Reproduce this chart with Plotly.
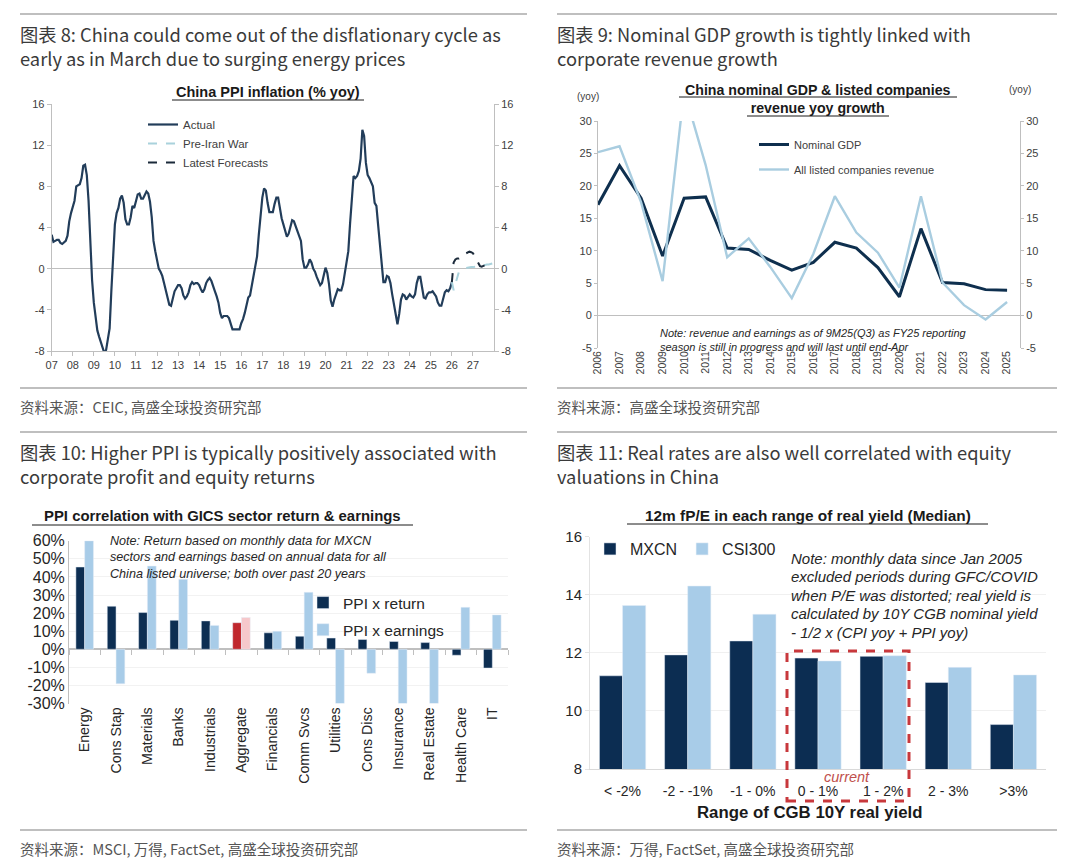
import plotly.graph_objects as go

W, H = 1080, 864


def px(x):
    return x / W


def py(y):
    return 1 - y / H


# ---------------- Panel 1: China PPI inflation (% yoy), monthly ----------------
ppi_start_year = 2007
ppi_actual = [
    3.3, 2.6, 2.7, 2.8, 2.8, 2.5, 2.4, 2.6, 2.7, 3.2, 4.6, 5.4,      # 2007
    6.1, 6.6, 8.0, 8.1, 8.2, 8.8, 10.0, 10.1, 9.1, 6.6, 2.0, -1.1,   # 2008
    -3.3, -4.5, -6.0, -6.6, -7.2, -7.8, -8.2, -7.9, -7.0, -5.8, -2.1, 1.7,  # 2009
    4.3, 5.4, 5.9, 6.8, 7.1, 6.4, 4.8, 4.3, 4.3, 5.0, 6.1, 5.9,      # 2010
    6.6, 7.2, 7.3, 6.8, 6.8, 7.1, 7.5, 7.3, 6.5, 5.0, 2.7, 1.7,      # 2011
    0.7, 0.0, -0.3, -0.7, -1.4, -2.1, -2.9, -3.5, -3.6, -2.8, -2.2, -1.9,  # 2012
    -1.6, -1.6, -1.9, -2.6, -2.9, -2.7, -2.3, -1.6, -1.3, -1.5, -1.4, -1.4,  # 2013
    -1.6, -2.0, -2.3, -2.0, -1.4, -1.1, -0.9, -1.2, -1.8, -2.2, -2.7, -3.3,  # 2014
    -4.3, -4.8, -4.6, -4.6, -4.6, -4.8, -5.4, -5.9, -5.9, -5.9, -5.9, -5.9,  # 2015
    -5.3, -4.9, -4.3, -3.4, -2.8, -2.6, -1.7, -0.8, 0.1, 1.2, 3.3, 5.5,    # 2016
    6.9, 7.8, 7.6, 6.4, 5.5, 5.5, 5.5, 6.3, 6.9, 6.9, 5.8, 4.9,      # 2017
    4.3, 3.7, 3.1, 3.4, 4.1, 4.7, 4.6, 4.1, 3.6, 3.3, 2.7, 0.9,      # 2018
    0.1, 0.1, 0.4, 0.9, 0.6, 0.0, -0.3, -0.8, -1.2, -1.6, -1.4, -0.5,  # 2019
    0.1, -0.4, -1.5, -3.1, -3.7, -3.0, -2.4, -2.0, -2.1, -2.1, -1.5, -0.4,  # 2020
    0.3, 1.7, 4.4, 6.8, 9.0, 8.8, 9.0, 9.5, 10.7, 13.5, 12.9, 10.3,  # 2021
    9.1, 8.8, 8.3, 8.0, 6.4, 6.1, 4.2, 2.3, 0.9, -1.3, -1.3, -0.7,   # 2022
    -0.8, -1.4, -2.5, -3.6, -4.6, -5.4, -4.4, -3.0, -2.5, -2.6, -3.0, -2.7,  # 2023
    -2.5, -2.7, -2.8, -2.5, -1.4, -0.8, -0.8, -1.8, -2.8, -2.9, -2.5, -2.3,  # 2024
    -2.3, -2.2, -2.5, -2.7, -3.3, -3.6, -3.6, -2.9, -2.3, -2.1, -2.2, -1.9,  # 2025
    -1.3,                                                              # Jan 2026
]
# Forecast paths, monthly Jan 2026 - Dec 2027
ppi_latest = [
    -1.3, 0.6, 0.9, 1.0, 1.0, 1.2, 1.3, 1.4, 1.5, 1.6, 1.65, 1.6,
    1.5, 1.2, 0.9, 0.5, 0.25, 0.2, 0.3, 0.35, 0.4, 0.45, 0.5, 0.6,
]
ppi_pre_iran = [
    -1.3, -2.1, -1.5, -0.8, -0.3, -0.15, -0.05, 0.0, 0.05, 0.1, 0.1, 0.15,
    0.15, 0.2, 0.2, 0.2, 0.25, 0.3, 0.3, 0.35, 0.4, 0.4, 0.45, 0.5,
]
ppi_tick_years = list(range(2007, 2028))
ppi_tick_labels = ["07", "08", "09", "10", "11", "12", "13", "14", "15", "16", "17",
                   "18", "19", "20", "21", "22", "23", "24", "25", "26", "27"]
ppi_y_ticks = [-8, -4, 0, 4, 8, 12, 16]
ppi_y_labels = ["-8", "-4", "0", "4", "8", "12", "16"]

# ---------------- Panel 2: nominal GDP vs listed revenue ----------------
gdp_years = list(range(2006, 2026))
nominal_gdp = [17.1, 23.1, 18.1, 9.2, 18.1, 18.3, 10.4, 10.2, 8.5, 7.0,
               8.2, 11.3, 10.4, 7.4, 2.9, 13.4, 5.1, 4.9, 4.0, 3.9]
listed_revenue = [25.2, 26.1, 17.5, 5.3, 34.7, 23.2, 9.0, 11.9, 7.5, 2.7,
                  9.5, 18.4, 12.8, 9.7, 4.3, 18.4, 5.1, 1.6, -0.6, 2.1]
gdp_y_ticks = [-5, 0, 5, 10, 15, 20, 25, 30]
gdp_y_labels = ["-5", "0", "5", "10", "15", "20", "25", "30"]

# ---------------- Panel 3: PPI correlation with GICS sectors ----------------
sectors = ["Energy", "Cons Stap", "Materials", "Banks", "Industrials", "Aggregate",
           "Financials", "Comm Svcs", "Utilities", "Cons Disc", "Insurance",
           "Real Estate", "Health Care", "IT"]
ppi_x_return = [45.5, 23.8, 20.3, 16.0, 15.7, 14.7, 9.1, 7.2, 6.2, 5.4, 4.3, 3.7, -3.3, -10.4]
ppi_x_earnings = [60.0, -19.1, 46.0, 38.7, 13.2, 17.6, 10.0, 31.5, -30.0, -13.3, -30.0, -30.0, 23.2, 19.0]
corr_y_ticks = [-30, -20, -10, 0, 10, 20, 30, 40, 50, 60]
corr_y_labels = ["-30%", "-20%", "-10%", "0%", "10%", "20%", "30%", "40%", "50%", "60%"]

# ---------------- Panel 4: 12m fP/E by real-yield range ----------------
yield_ranges = ["< -2%", "-2 - -1%", "-1 - 0%", "0 - 1%", "1 - 2%", "2 - 3%", ">3%"]
pe_mxcn = [11.21, 11.93, 12.41, 11.82, 11.88, 10.98, 9.53]
pe_csi300 = [13.63, 14.30, 13.33, 11.72, 11.90, 11.50, 11.24]

# ---------------- styling ----------------
NAVY = "#0D2E52"
LIGHT = "#A8CCE8"
GREY_LINE = "#BFBFBF"
TXT = "#404040"
DARK = "#262626"
ARIAL = "Liberation Sans, Arial, sans-serif"
CJK = "Noto Sans CJK SC, Noto Sans, sans-serif"

fig = go.Figure()

# Panel 1 traces
x_act = [ppi_start_year + i / 12 for i in range(len(ppi_actual))]
fc0 = ppi_start_year + (len(ppi_actual) - 1) / 12
x_fc = [fc0 + i / 12 for i in range(len(ppi_latest))]
fig.add_trace(go.Scatter(x=x_act, y=ppi_actual, mode="lines", name="Actual",
                         line=dict(color="#223D5A", width=2.2), xaxis="x", yaxis="y",
                         legend="legend"))
fig.add_trace(go.Scatter(x=x_fc, y=ppi_pre_iran, mode="lines", name="Pre-Iran War",
                         line=dict(color="#A9D2DC", width=2, dash="dash"), xaxis="x", yaxis="y",
                         legend="legend"))
fig.add_trace(go.Scatter(x=x_fc, y=ppi_latest, mode="lines", name="Latest Forecasts",
                         line=dict(color="#1B2A3A", width=2, dash="dash"), xaxis="x", yaxis="y",
                         legend="legend"))
fig.add_trace(go.Scatter(x=x_act[:1], y=ppi_actual[:1], mode="markers", marker=dict(opacity=0),
                         showlegend=False, hoverinfo="skip", xaxis="x", yaxis="y5"))

# Panel 2 traces
fig.add_trace(go.Scatter(x=gdp_years, y=nominal_gdp, mode="lines", name="Nominal GDP",
                         line=dict(color="#0E2F4E", width=3), xaxis="x2", yaxis="y2",
                         legend="legend2", legendgroup="g1"))
fig.add_trace(go.Scatter(x=gdp_years, y=listed_revenue, mode="lines",
                         name="All listed companies revenue",
                         line=dict(color="#A9CDE0", width=2.4), xaxis="x2", yaxis="y2",
                         legend="legend2", legendgroup="g2"))
fig.add_trace(go.Scatter(x=gdp_years[:1], y=nominal_gdp[:1], mode="markers", marker=dict(opacity=0),
                         showlegend=False, hoverinfo="skip", xaxis="x2", yaxis="y6"))

# Panel 3 traces
ret_colors = ["#C0272D" if s == "Aggregate" else NAVY for s in sectors]
earn_colors = ["#F6C8CB" if s == "Aggregate" else LIGHT for s in sectors]
fig.add_trace(go.Bar(x=sectors, y=ppi_x_return, name="PPI x return", marker_color=ret_colors,
                     width=0.28, offset=-0.28, xaxis="x3", yaxis="y3", legend="legend3",
                     legendgroup="r"))
fig.add_trace(go.Bar(x=sectors, y=ppi_x_earnings, name="PPI x earnings", marker_color=earn_colors,
                     width=0.28, offset=0.0, xaxis="x3", yaxis="y3", legend="legend3",
                     legendgroup="e"))
fig.add_trace(go.Scatter(x=[0], y=[0], mode="markers", marker=dict(opacity=0),
                         showlegend=False, hoverinfo="skip", xaxis="x7", yaxis="y3"))

# Panel 4 traces
fig.add_trace(go.Bar(x=yield_ranges, y=pe_mxcn, name="MXCN", marker_color="#0C2D52",
                     width=0.355, offset=-0.355, xaxis="x4", yaxis="y4", legend="legend4"))
fig.add_trace(go.Bar(x=yield_ranges, y=pe_csi300, name="CSI300", marker_color=LIGHT,
                     width=0.355, offset=0.0, xaxis="x4", yaxis="y4", legend="legend4"))

tick_font = dict(family=ARIAL, size=11, color=TXT)

# zero line position in panel 3 (paper)
p3_y0, p3_y1 = py(703.5), py(540.8)
p3_zero = p3_y0 + (0 - (-30)) / 90 * (p3_y1 - p3_y0)

layout = dict(
    width=W, height=H, margin=dict(l=0, r=0, t=0, b=0, pad=0, autoexpand=False),
    paper_bgcolor="white", plot_bgcolor="rgba(0,0,0,0)",
    font=dict(family=ARIAL, color=TXT),
    barmode="overlay",
    # Panel 1
    xaxis=dict(domain=[px(51.7), px(494)], range=[2007, 2028], tickvals=ppi_tick_years,
               ticktext=ppi_tick_labels, showline=True, linecolor=GREY_LINE, linewidth=1,
               ticks="outside", ticklen=4, tickcolor=GREY_LINE, showgrid=False, zeroline=False,
               tickfont=tick_font, anchor="y", automargin=False),
    yaxis=dict(domain=[py(351), py(104)], range=[-8, 16], tickvals=ppi_y_ticks,
               ticktext=ppi_y_labels, showline=True,
               linecolor=GREY_LINE, ticks="outside", ticklen=4, tickcolor=GREY_LINE,
               showgrid=False, zeroline=True, zerolinecolor=GREY_LINE, zerolinewidth=1,
               tickfont=tick_font, anchor="x", automargin=False),
    yaxis5=dict(overlaying="y", side="right", range=[-8, 16], tickvals=ppi_y_ticks,
                ticktext=ppi_y_labels, showline=True,
                linecolor=GREY_LINE, ticks="outside", ticklen=4, tickcolor=GREY_LINE,
                showgrid=False, zeroline=False, tickfont=tick_font, anchor="x",
                automargin=False),
    # Panel 2
    xaxis2=dict(domain=[px(598), px(1020)], range=[2006, 2025.6], tickvals=gdp_years,
                tickangle=-90, showline=False, ticks="", showgrid=False, zeroline=False,
                tickfont=dict(family=ARIAL, size=10.5, color=TXT), anchor="y2",
                automargin=False),
    yaxis2=dict(domain=[py(348), py(121)], range=[-5, 30], tickvals=gdp_y_ticks,
                ticktext=gdp_y_labels, showline=True,
                linecolor=GREY_LINE, ticks="outside", ticklen=3, tickcolor=GREY_LINE,
                showgrid=False, zeroline=True, zerolinecolor=GREY_LINE, zerolinewidth=1,
                tickfont=dict(family=ARIAL, size=11, color=TXT), anchor="x2",
                automargin=False),
    yaxis6=dict(overlaying="y2", side="right", range=[-5, 30], tickvals=gdp_y_ticks,
                ticktext=gdp_y_labels, showline=True,
                linecolor=GREY_LINE, ticks="outside", ticklen=3, tickcolor=GREY_LINE,
                showgrid=False, zeroline=False,
                tickfont=dict(family=ARIAL, size=11, color=TXT), anchor="x2",
                automargin=False),
    # Panel 3
    xaxis3=dict(domain=[px(69), px(508)], type="category", categoryarray=sectors,
                range=[-0.5, 13.5], tickangle=-90, showline=False, ticks="", showgrid=False,
                tickfont=dict(family=ARIAL, size=14.2, color=DARK), anchor="y3",
                automargin=False),
    xaxis7=dict(overlaying="x3", anchor="free", position=p3_zero, range=[-0.5, 13.5],
                tickvals=[i - 0.5 for i in range(15)], showticklabels=False, ticks="outside",
                ticklen=5, tickcolor=GREY_LINE, showline=False, showgrid=False, zeroline=False,
                automargin=False),
    yaxis3=dict(domain=[p3_y0, p3_y1], range=[-30, 60], tickvals=corr_y_ticks,
                ticktext=corr_y_labels,
                showline=True, linecolor=GREY_LINE, ticks="", showgrid=True,
                gridcolor="#F2F2F2", zeroline=True, zerolinecolor=GREY_LINE, zerolinewidth=1.5,
                tickfont=dict(family=ARIAL, size=16, color=DARK), anchor="x3",
                automargin=False),
    # Panel 4
    xaxis4=dict(domain=[px(590), px(1046)], type="category", categoryarray=yield_ranges,
                range=[-0.5, 6.5], showline=True, linecolor="#D9D9D9", ticks="",
                showgrid=False, tickfont=dict(family=ARIAL, size=14, color=DARK),
                ticklabelstandoff=9, anchor="y4", automargin=False),
    yaxis4=dict(domain=[py(769), py(536.7)], range=[8, 16], dtick=2, showline=True,
                linecolor="#E3E3E3", ticks="outside", ticklen=4, tickcolor="#E3E3E3",
                showgrid=True, gridcolor="#F0F0F0", zeroline=False,
                tickfont=dict(family=ARIAL, size=15, color=DARK), anchor="x4",
                automargin=False),
    # Legends
    legend=dict(x=px(143), y=py(110), xanchor="left", yanchor="top", bgcolor="rgba(0,0,0,0)",
                font=dict(family=ARIAL, size=11.5, color=TXT), tracegroupgap=0,
                itemwidth=30),
    legend2=dict(x=px(754), y=py(130), xanchor="left", yanchor="top", bgcolor="rgba(0,0,0,0)",
                 font=dict(family=ARIAL, size=11, color=TXT), tracegroupgap=6,
                 traceorder="grouped", itemwidth=30),
    legend3=dict(x=px(303), y=py(586), xanchor="left", yanchor="top", bgcolor="rgba(0,0,0,0)",
                 font=dict(family=ARIAL, size=15.5, color=DARK), tracegroupgap=4,
                 traceorder="grouped", itemwidth=30),
    legend4=dict(x=px(590), y=py(549), xanchor="left", yanchor="middle", orientation="h",
                 bgcolor="rgba(0,0,0,0)", font=dict(family=ARIAL, size=16, color=DARK),
                 itemwidth=30),
)
fig.update_layout(**layout)

# ---------------- text annotations ----------------
ann = []


def text(x, y, s, size, color=TXT, family=ARIAL, xanchor="left", yanchor="middle"):
    ann.append(dict(x=px(x), y=py(y), xref="paper", yref="paper", text=s, showarrow=False,
                    xanchor=xanchor, yanchor=yanchor, align="left" if xanchor == "left" else "center",
                    font=dict(family=family, size=size, color=color)))


TCOL = "#3A3A3A"
TS = 18.3
text(18, 46.3, "图表 8: China could come out of the disflationary cycle as<br>"
     "early as in March due to surging energy prices", TS, TCOL, CJK)
text(555, 46.3, "图表 9: Nominal GDP growth is tightly linked with<br>"
     "corporate revenue growth", TS, TCOL, CJK)
text(18, 464, "图表 10: Higher PPI is typically positively associated with<br>"
     "corporate profit and equity returns", TS, TCOL, CJK)
text(555, 464, "图表 11: Real rates are also well correlated with equity<br>"
     "valuations in China", TS, TCOL, CJK)

SCOL = "#555555"
SS = 14.5
text(18, 406, "资料来源：CEIC, 高盛全球投资研究部", SS, SCOL, CJK)
text(555, 406, "资料来源：高盛全球投资研究部", SS, SCOL, CJK)
text(18, 848, "资料来源：MSCI, 万得, FactSet, 高盛全球投资研究部", SS, SCOL, CJK)
text(555, 848, "资料来源：万得, FactSet, 高盛全球投资研究部", SS, SCOL, CJK)

# chart titles
text(268, 92, "<b>China PPI inflation (% yoy)</b>", 14.5, "#1A1A1A", xanchor="center")
text(818, 98.5, "<b>China nominal GDP &amp; listed companies</b><br><b>revenue yoy growth</b>",
     14.2, "#1A1A1A", xanchor="center")
text(222, 516, "<b>PPI correlation with GICS sector return &amp; earnings</b>", 14.9, "#1A1A1A",
     xanchor="center")
text(808, 515, "<b>12m fP/E in each range of real yield (Median)</b>", 15.4, "#1A1A1A",
     xanchor="center")

# panel 2 unit labels + note
text(588, 96, "(yoy)", 10, TXT, xanchor="center")
text(1020, 90, "(yoy)", 10, TXT, xanchor="center")
text(658, 340, "<i>Note: revenue and earnings as of 9M25(Q3) as FY25 reporting<br>"
     "season is still in progress and will last until end-Apr</i>", 11, DARK)

# panel 3 note
text(108, 557, "<i>Note: Return based on monthly data for MXCN<br>"
     "sectors and earnings based on annual data for all<br>"
     "China listed universe; both over past 20 years</i>", 12.6, DARK)

# panel 4 note, axis title, current
note4 = ["Note: monthly data since Jan 2005", "excluded periods during GFC/COVID",
         "when P/E was distorted; real yield is", "calculated by 10Y CGB nominal yield",
         "- 1/2 x (CPI yoy + PPI yoy)"]
for i, line in enumerate(note4):
    text(789, 558 + i * 18.5, "<i>" + line + "</i>", 15, DARK)
text(809, 812, "<b>Range of CGB 10Y real yield</b>", 16.8, "#1A1A1A", xanchor="center")
text(847, 777, "<i>current</i>", 14.5, "#C0504D", xanchor="center")

fig.update_layout(annotations=ann)

# ---------------- shapes: rules, underlines, dashed box ----------------
shapes = []


def hline(x0, x1, y, color=GREY_LINE, width=2):
    shapes.append(dict(type="line", xref="paper", yref="paper", x0=px(x0), x1=px(x1),
                       y0=py(y), y1=py(y), line=dict(color=color, width=width)))


for yy in (14, 388, 432, 830):
    hline(20, 527, yy)
    hline(557, 1057, yy)

# title underlines
hline(172, 364, 100, "#1A1A1A", 1)
hline(679, 957, 97, "#1A1A1A", 1)
hline(747, 889, 116, "#1A1A1A", 1)
hline(32, 413, 525, "#1A1A1A", 1)
hline(627, 988, 524, "#1A1A1A", 1)

shapes.append(dict(type="rect", xref="paper", yref="paper", x0=px(787), x1=px(909),
                   y0=py(801), y1=py(651), line=dict(color="#C8383C", width=3, dash="dash"),
                   fillcolor="rgba(0,0,0,0)"))
fig.update_layout(shapes=shapes)

# pin the figure to the top-left corner of the page so no page margin shifts it
pin_js = (
    "var gd=document.getElementById('{plot_id}');"
    "gd.style.position='fixed';gd.style.left='0px';gd.style.top='0px';"
    "document.body.style.margin='0';document.body.style.padding='0';"
    "document.documentElement.style.margin='0';document.documentElement.style.padding='0';"
    "document.documentElement.style.overflow='hidden';"
)
fig.write_html("out.html", config={"displayModeBar": False}, post_script=pin_js)
